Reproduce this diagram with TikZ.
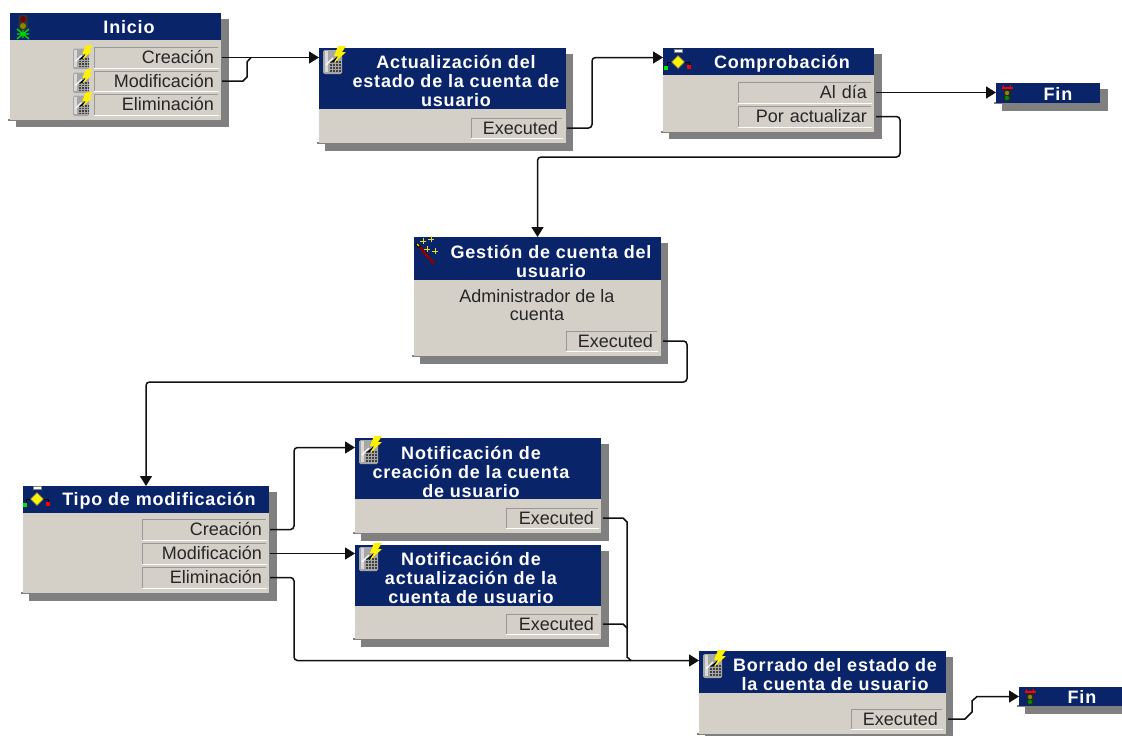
\documentclass[tikz,border=0pt]{standalone}
\usepackage{fontspec}
\setmainfont{Liberation Sans}
\newfontfamily\titlef[LetterSpace=4.5]{Liberation Sans}
\usetikzlibrary{arrows.meta}
\definecolor{hdr}{HTML}{0A246A}
\definecolor{bodyc}{HTML}{D4D0C8}
\definecolor{shd}{HTML}{808080}
\definecolor{bev}{HTML}{989898}
\definecolor{lnk}{HTML}{101010}
\tikzset{
  plainrect/.style={inner sep=0pt,outer sep=0pt,draw=none},
  shadowbox/.style={plainrect,fill=shd},
  bodybox/.style={plainrect,fill=bodyc},
  hdrbox/.style={plainrect,fill=hdr},
  titletext/.style={inner sep=0pt,outer sep=0pt,text=white,align=center,font=\titlef\bfseries\fontsize{18}{19}\selectfont},
  fieldbox/.style={inner xsep=4pt,inner ysep=0pt,outer sep=0pt,fill=bodyc,align=right,font=\fontsize{18}{19}\selectfont,text=black!85},
  bodytext/.style={inner sep=0pt,outer sep=0pt,align=center,font=\fontsize{18}{18.5}\selectfont,text=black!85},
  conn/.style={draw=lnk,line width=1.5pt,rounded corners=3.5pt},
  link/.style={conn,-{Triangle[length=10pt,width=12pt]}},
}
% name, x1, y1, x2, y2, header bottom, shadow right, shadow bottom
\newcommand{\wfbox}[8]{%
  \node[shadowbox,minimum width={(#7-#2-6)*1pt},minimum height={(#8-#3-6)*1pt}] (#1-s) at ({(#2+6+#7)/2},{(#3+6+#8)/2}) {};
  \fill[shd] (#2-2,#5-1) rectangle (#4,#5+1);
  \node[bodybox,minimum width={(#4-#2)*1pt},minimum height={(#5-#3)*1pt}] (#1) at ({(#2+#4)/2},{(#3+#5)/2}) {};
  \node[hdrbox,minimum width={(#4-#2)*1pt},minimum height={(#6-#3)*1pt}] (#1-h) at ({(#2+#4)/2},{(#3+#6)/2}) {};
  \coordinate (#1-in) at (#2,#3+9.5);
}
% name, x1, y1, x2, y2, text
\newcommand{\wffield}[6]{%
  \pgfmathsetmacro{\fw}{#4-#2-8}
  \node[fieldbox,text width=\fw pt,minimum height={(#5-#3)*1pt}] (#1) at ({(#2+#4)/2},{(#3+#5)/2}) {\rule[-1pt]{0pt}{13pt}#6};
  \draw[bev,line width=1.2pt] (#2+.6,#5) -- (#2+.6,#3+.6) -- (#4,#3+.6);
  \draw[white,line width=1.4pt] (#2,#5+.7) -- (#4+.7,#5+.7);
}
\newcommand{\iconaction}[3]{%
  \begin{scope}[shift={(#1,#2)},scale=#3]
    \fill[gray!70,rounded corners=1.5pt] (0,2) rectangle (19,26);
    \fill[gray!30] (1.5,3) rectangle (5,24);
    \foreach \yy in {14,17,20,23}{\draw[black!75,line width=1.2pt,dash pattern=on 2pt off 1pt] (7,\yy) -- (19,\yy);}
    \draw[white,line width=1.2pt] (3,17) -- (10,10);
    \draw[black,line width=1.4pt] (9,14) -- (16,8);
    \fill[yellow] (15,-2) -- (23,-2) -- (19,4) -- (23,4) -- (11,15) -- (15,8) -- (11,8) -- cycle;
  \end{scope}
}
\newcommand{\icondecision}[2]{%
  \begin{scope}[shift={(#1,#2)}]
    \fill[white,draw=gray,line width=.5pt] (-4,-12.5) rectangle (4,-10);
    \draw[black,line width=1pt] (-6,0) -- (-11,0) -- (-11,5);
    \draw[black,line width=1pt] (6,0) -- (11,0) -- (11,4);
    \fill[yellow,draw=black!60,line width=.5pt] (0,-6.5) -- (6.5,0) -- (0,6.5) -- (-6.5,0) -- cycle;
    \fill[green!90!black] (-14,3.5) rectangle (-10,8);
    \fill[red] (9,3) rectangle (13,7);
  \end{scope}
}
\newcommand{\iconstart}[2]{%
  \begin{scope}[shift={(#1,#2)}]
    \fill[black!80,rounded corners=2pt] (-4.5,-3) rectangle (4.5,13);
    \fill[red!45!black] (0,1) circle (3);
    \fill[olive] (0,8) circle (3);
    \draw[green!85!black,line width=1.4pt] (-6,11) -- (6,21) (-6,21) -- (6,11) (-6,16) -- (6,16) (0,12) -- (0,20);
  \end{scope}
}
\newcommand{\iconend}[2]{%
  \begin{scope}[shift={(#1,#2)}]
    \fill[black!85] (-3.5,0) rectangle (3.5,14);
    \draw[red,line width=1.3pt] (-5.5,1) -- (5.5,1) (-3.5,-2) -- (-3.5,1) (3.5,-2) -- (3.5,1);
    \fill[olive] (0,6) circle (2.2);
    \fill[green!55!black] (0,11) circle (2.2);
  \end{scope}
}
\newcommand{\iconwand}[2]{%
  \begin{scope}[shift={(#1,#2)}]
    \draw[red!55!black,line width=2.6pt] (5,8) -- (20,26);
    \draw[black,line width=3pt] (2,6) -- (6,9);
    \draw[yellow,line width=1.4pt] (3,6) -- (5,8);
    \foreach \px/\py in {9/3,17/1,13/11,21/13}{%
      \draw[yellow!90!black,line width=.9pt] (\px-3,\py) -- (\px+3,\py) (\px,\py-3) -- (\px,\py+3);}
  \end{scope}
}
\begin{document}
\begin{tikzpicture}[x=1pt,y=-1pt]
\useasboundingbox (0,0) rectangle (1122,736);
\fill[white] (0,0) rectangle (1122,736);

% ---- boxes
\wfbox{inicio}{10}{13}{221}{120}{40}{229}{127}
\wfbox{act}{319}{48}{566}{143}{109}{573}{151}
\wfbox{comp}{663}{48}{874}{132}{75}{882}{139}
\wfbox{finA}{996}{83}{1100}{103}{103}{1108}{111}
\wfbox{gest}{414}{237}{661}{356}{280}{668}{364}
\wfbox{tipo}{23}{486}{269}{593}{513}{277}{601}
\wfbox{notA}{355}{438}{601}{533}{499}{609}{541}
\wfbox{notB}{355}{545}{601}{639}{606}{609}{647}
\wfbox{borr}{699}{651}{946}{734}{693}{953}{736}
\wfbox{finB}{1019}{687}{1122}{706}{706}{1122}{714}

% ---- titles
\node[titletext] (inicio-t) at (129,27) {Inicio};
\node[titletext] (act-t) at (456,81) {Actualización del\\estado de la cuenta de\\usuario};
\node[titletext] (comp-t) at (782,63.5) {Comprobación};
\node[titletext] (finA-t) at (1058,94) {Fin};
\node[titletext] (gest-t) at (551,261.5) {Gestión de cuenta del\\usuario};
\node[titletext] (tipo-t) at (159,500.5) {Tipo de modificación};
\node[titletext] (notA-t) at (471,471.5) {Notificación de\\creación de la cuenta\\de usuario};
\node[titletext] (notB-t) at (471,577.5) {Notificación de\\actualización de la\\cuenta de usuario};
\node[titletext] (borr-t) at (835,675) {Borrado del estado de\\la cuenta de usuario};
\node[titletext] (finB-t) at (1082,697) {Fin};
\node[bodytext] (gest-b) at (537,305) {Administrador de la\\cuenta};

% ---- fields
\wffield{iniC}{94}{47}{218}{68}{Creación}
\wffield{iniM}{94}{71}{218}{91}{Modificación}
\wffield{iniE}{94}{94}{218}{115}{Eliminación}
\wffield{actX}{471}{118}{562}{138}{Executed}
\wffield{compA}{738}{82}{871}{103}{Al día}
\wffield{compP}{738}{106}{871}{127}{Por actualizar}
\wffield{gestX}{566}{331}{657}{351}{Executed}
\wffield{tipoC}{142}{519}{266}{540}{Creación}
\wffield{tipoM}{142}{543}{266}{564}{Modificación}
\wffield{tipoE}{142}{567}{266}{588}{Eliminación}
\wffield{notAX}{506}{508}{598}{528}{Executed}
\wffield{notBX}{506}{614}{598}{634}{Executed}
\wffield{borrX}{851}{709}{942}{729}{Executed}

% ---- icons
\iconstart{23}{18}
\iconaction{73}{47}{0.85}
\iconaction{73}{71}{0.85}
\iconaction{73}{94}{0.85}
\iconaction{323}{48}{1}
\icondecision{678}{62}
\iconend{1007}{87}
\iconwand{414}{238}
\icondecision{37}{499}
\iconaction{359}{438}{1}
\iconaction{359}{545}{1}
\iconaction{703}{652}{1}
\iconend{1030}{691}

% ---- connectors
\draw[link,shorten <=4pt] (iniC.east) -- (act-in);
\draw[conn,sharp corners,shorten <=4pt] (iniM.east) -- (243,81) -- (247,77) -- (247,62) -- (251,57.5);
\draw[link,shorten <=5pt] (actX.east) -- (592,128) -- (592,57.5) -- (comp-in);
\draw[link,shorten <=5pt] (compA.east) -- (finA-in);
\draw[link,shorten <=5pt] (compP.east) -- (900,116.5) -- (900,157) -- (537.5,157) -- (gest.north);
\draw[link,shorten <=6pt] (gestX.east) -- (687,341) -- (687,382) -- (146,382) -- (tipo.north);
\draw[link,shorten <=4pt] (tipoC.east) -- (294,529.5) -- (294,447.5) -- (notA-in);
\draw[link,shorten <=4pt] (tipoM.east) -- (notB-in |- tipoM.east);
\draw[link,shorten <=4pt] (tipoE.east) -- (294,577.5) -- (294,660.5) -- (borr-in);
\draw[conn,sharp corners,shorten <=5pt] (notAX.east) -- (623,518) -- (627,522) -- (627,657) -- (631,660.5);
\draw[conn,sharp corners,shorten <=5pt] (notBX.east) -- (623,624) -- (627,628);
\draw[link,sharp corners,shorten <=6pt] (borrX.east) -- (965,719) -- (972,712) -- (972,701) -- (977,696.5) -- (finB-in);
\end{tikzpicture}
\end{document}
